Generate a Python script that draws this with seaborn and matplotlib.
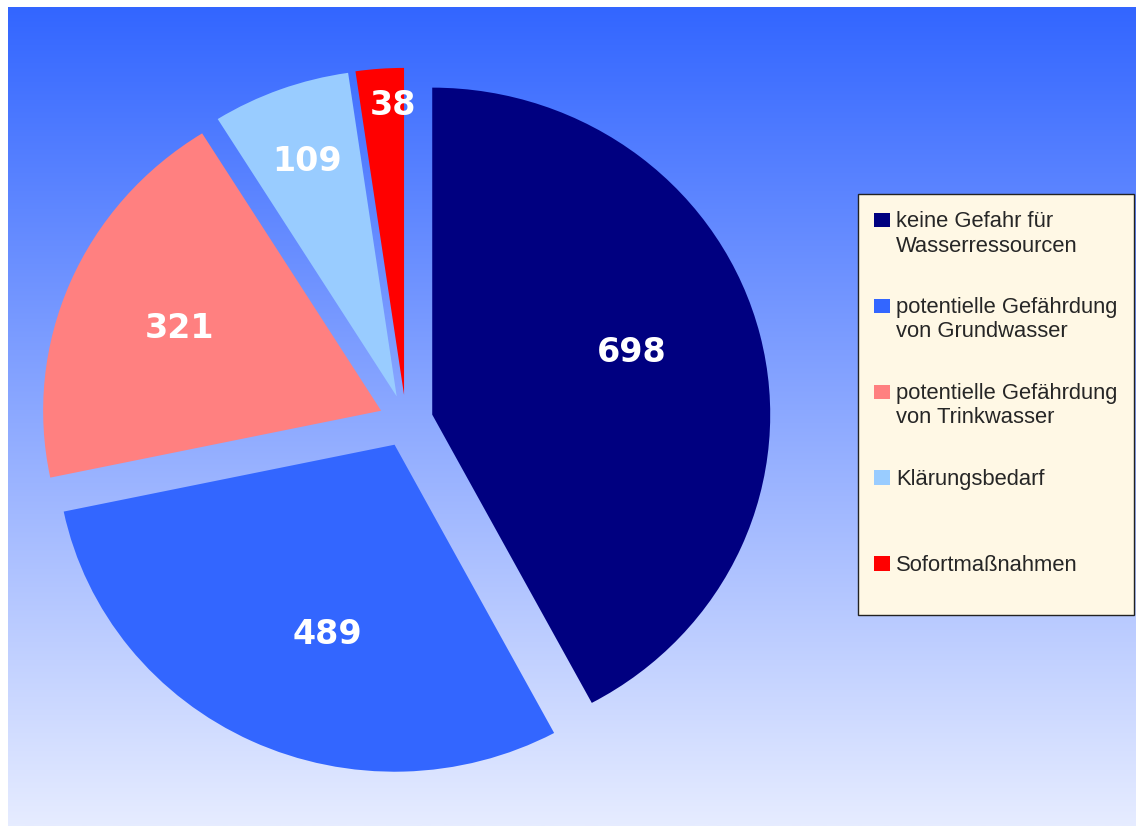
import numpy as np
import matplotlib
matplotlib.use("Agg")
import matplotlib.pyplot as plt
import matplotlib.patches as mpatches
from matplotlib.colors import to_rgb
from matplotlib.legend_handler import HandlerPatch
import seaborn as sns

CATEGORIES = [
    "keine Gefahr für\nWasserressourcen",
    "potentielle Gefährdung\nvon Grundwasser",
    "potentielle Gefährdung\nvon Trinkwasser",
    "Klärungsbedarf",
    "Sofortmaßnahmen",
]
COUNTS = [698, 489, 321, 109, 38]
COLORS = ["#000080", "#3366FF", "#FF8080", "#99CCFF", "#FF0000"]
LABEL_DIST = [0.62, 0.61, 0.65, 0.77, 0.89]
LABEL_TURN = [4, 6, 0, 0, -2]   # degrees, nudge labels off the slice mid-angle

BG_TOP = "#3366FF"
BG_BOTTOM = "#E6ECFF"
LEGEND_BG = "#FFF8E5"

W, H = 1136, 829

sns.set_style("white")
plt.rcParams["font.family"] = ["Liberation Sans", "DejaVu Sans"]

fig = plt.figure(figsize=(W / 100, H / 100), dpi=100)
fig.patch.set_facecolor("white")

# gradient background panel
bg = fig.add_axes([0, 0, 1, 1])
bg.set_xlim(0, W)
bg.set_ylim(0, H)
bg.axis("off")
top, bottom = np.array(to_rgb(BG_TOP)), np.array(to_rgb(BG_BOTTOM))
t = np.linspace(0, 1, 256)[:, None]
grad = (top[None, :] * (1 - t) + bottom[None, :] * t)[:, None, :]
bg.imshow(grad, extent=[8, W, 2, H - 8], aspect="auto", origin="upper",
          interpolation="bilinear")

# pie axes: 1 data unit = 338 px horizontally, 327 px vertically
ax = fig.add_axes([0.4 / W, 14.6 / H, 811.2 / W, 784.8 / H])
wedges, _ = ax.pie(
    COUNTS,
    colors=COLORS,
    startangle=90,
    counterclock=False,
    explode=[0.08] * len(COUNTS),
    radius=1,
    wedgeprops=dict(linewidth=0),
)
ax.set_aspect("auto")
ax.set_xlim(-1.2, 1.2)
ax.set_ylim(-1.2, 1.2)
ax.axis("off")

for w, val, d, turn in zip(wedges, COUNTS, LABEL_DIST, LABEL_TURN):
    mid = np.deg2rad((w.theta1 + w.theta2) / 2 + turn)
    cx, cy = w.center
    ax.text(cx + d * np.cos(mid), cy + d * np.sin(mid), str(val),
            ha="center", va="center", color="white", fontsize=24,
            fontweight="bold", family="DejaVu Sans")


def top_square(legend, orig_handle, xdescent, ydescent, width, height, fontsize):
    return mpatches.Rectangle((-xdescent, -ydescent + 0.6 * fontsize), width, height)


legend_labels = [c if "\n" in c else c + "\n" for c in CATEGORIES]
leg = fig.legend(
    wedges, legend_labels,
    loc="upper left",
    bbox_to_anchor=(858 / W, 1 - 195 / H),
    bbox_transform=fig.transFigure,
    borderaxespad=0,
    fontsize=15.8,
    handlelength=0.73,
    handleheight=0.64,
    handletextpad=0.25,
    labelspacing=1.85,
    borderpad=0.75,
    fancybox=False,
    framealpha=1,
    facecolor=LEGEND_BG,
    edgecolor="#222222",
    handler_map={mpatches.Wedge: HandlerPatch(patch_func=top_square)},
)
leg.get_frame().set_linewidth(1.0)

fig.savefig("out.png", dpi=100)
